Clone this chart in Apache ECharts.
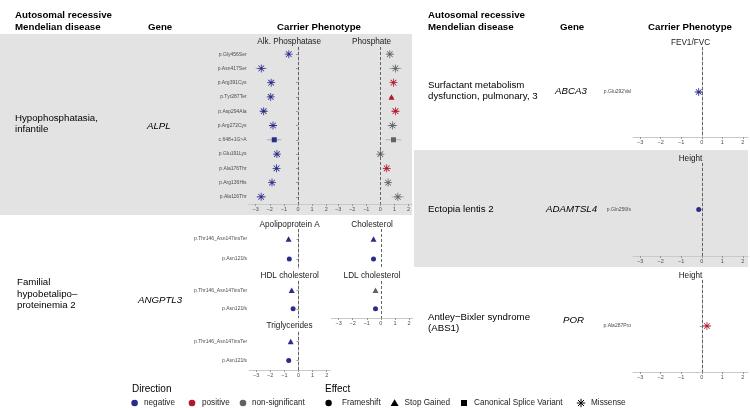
<!DOCTYPE html>
<html><head><meta charset="utf-8">
<script src="https://cdn.jsdelivr.net/npm/echarts@6/dist/echarts.min.js"></script>
<style>html,body{margin:0;padding:0;background:#fff}#c{width:750px;height:408px}</style>
</head><body><div id="c"></div>
<script>
// ---------------- DATA ----------------
const xTicks = [-3, -2, -1, 0, 1, 2];

const alplVariants = ['p.Gly456Ser','p.Asn417Ser','p.Arg391Cys','p.Tyr287Ter','p.Asp294Ala','p.Arg272Cys','c.648+1G>A','p.Glu191Lys','p.Ala176Thr','p.Arg136His','p.Ala116Thr'];
const alkValues    = [-0.65, -2.60, -1.90, -1.93, -2.43, -1.77, -1.68, -1.49, -1.52, -1.84, -2.61];
const alkErrors    = [0.15, 0.40, 0.20, 0.20, 0.20, 0.30, 0.50, 0.20, 0.20, 0.20, 0.35];
const alkDirection = ['negative','negative','negative','negative','negative','negative','negative','negative','negative','negative','negative'];
const alkEffect    = ['Missense','Missense','Missense','Missense','Missense','Missense','Canonical Splice Variant','Missense','Missense','Missense','Missense'];

const phosValues    = [0.67, 1.07, 0.93, 0.79, 1.07, 0.86, 0.93, 0.00, 0.45, 0.55, 1.24];
const phosErrors    = [0.25, 0.45, 0.20, 0.15, 0.25, 0.35, 0.55, 0.15, 0.25, 0.20, 0.45];
const phosDirection = ['non-significant','non-significant','positive','positive','positive','non-significant','non-significant','non-significant','positive','non-significant','non-significant'];
const phosEffect    = ['Missense','Missense','Missense','Stop Gained','Missense','Missense','Canonical Splice Variant','Missense','Missense','Missense','Missense'];

const angptl3Variants = ['p.Thr146_Asn147insTer','p.Asn121fs'];
const angptl3Effect   = ['Stop Gained','Frameshift'];
const apoAValues = [-0.70, -0.65]; const apoAErrors = [0.10, 0.10]; const apoADirection = ['negative','negative'];
const cholValues = [-0.52, -0.52]; const cholErrors = [0.10, 0.10]; const cholDirection = ['negative','negative'];
const hdlValues  = [-0.48, -0.38]; const hdlErrors  = [0.10, 0.10]; const hdlDirection  = ['negative','negative'];
const ldlValues  = [-0.38, -0.38]; const ldlErrors  = [0.10, 0.10]; const ldlDirection  = ['non-significant','negative'];
const trigValues = [-0.55, -0.69]; const trigErrors = [0.10, 0.10]; const trigDirection = ['negative','negative'];

const abca3Variants = ['p.Glu292Val']; const fevValues = [-0.15]; const fevErrors = [0.10]; const fevDirection = ['negative']; const fevEffect = ['Missense'];
const adamtsl4Variants = ['p.Gln256fs']; const adamHeightValues = [-0.15]; const adamHeightErrors = [0.08]; const adamHeightDirection = ['negative']; const adamEffect = ['Frameshift'];
const porVariants = ['p.Ala287Pro']; const porHeightValues = [0.25]; const porHeightErrors = [0.10]; const porHeightDirection = ['positive']; const porEffect = ['Missense'];

// ---------------- STYLE ----------------
const FONT = "'Liberation Sans', Arial, Helvetica, sans-serif";
const dirColor = {'negative':'#2B2B8C','positive':'#B2182B','non-significant':'#626262'};
const STAR = 'path://M9,0 L11,0 L11,20 L9,20 Z M0,9 L20,9 L20,11 L0,11 Z M3.64,2.22 L17.78,16.36 L16.36,17.78 L2.22,3.64 Z M17.78,3.64 L3.64,17.78 L2.22,16.36 L16.36,2.22 Z';
const effectSymbol = {'Frameshift':'circle','Stop Gained':'triangle','Canonical Splice Variant':'rect','Missense':STAR};
const effectSize = {'Frameshift':5,'Stop Gained':[6,5.5],'Canonical Splice Variant':5,'Missense':8};
const GREY = '#E3E3E3';
const AXIS = '#C9C9C9';

const grids = [], xAxes = [], yAxes = [], series = [], graphics = [];

function txt(x, y, text, opt) {
  opt = opt || {};
  graphics.push({type:'text', x:x, y:y, z:20, silent:true, style:{
    text:text, fill:opt.fill || '#000', fontSize:opt.size || 9.7, fontFamily:FONT,
    fontWeight:opt.weight || 'normal', fontStyle:opt.style || 'normal',
    align:opt.align || 'left', verticalAlign:'middle'}});
}

function facet(o) {
  const i = grids.length;
  grids.push({left:o.left, top:o.top, width:o.width, height:o.height});
  xAxes.push({type:'value', gridIndex:i, min:o.min, max:o.max,
    axisLine:{show:o.showX, lineStyle:{color:AXIS, width:1}},
    axisTick:{show:o.showX, length:2, customValues:xTicks, lineStyle:{color:'#999'}},
    axisLabel:{show:o.showX, customValues:xTicks, fontSize:5.5, color:'#4D4D4D', margin:2, fontFamily:FONT,
      formatter:v => (v < 0 ? '\u2212' + Math.abs(v) : String(v))},
    splitLine:{show:false}});
  yAxes.push({type:'category', gridIndex:i, data:o.cats, inverse:true,
    axisLine:{show:o.showY, lineStyle:{color:AXIS, width:1}},
    axisTick:{show:o.showY, length:2, alignWithLabel:true, lineStyle:{color:'#999'}},
    axisLabel:{show:o.showY, fontSize:5, color:'#4D4D4D', margin:2, fontFamily:FONT},
    splitLine:{show:false}});
  series.push({type:'custom', xAxisIndex:i, yAxisIndex:i, silent:true, z:2,
    encode:{x:[0,1], y:2},
    data:o.values.map((v,k) => ({value:[v - o.errors[k], v + o.errors[k], k], itemStyle:{color:dirColor[o.dirs[k]]}})),
    renderItem:(params, api) => {
      const a = api.coord([api.value(0), api.value(2)]);
      const b = api.coord([api.value(1), api.value(2)]);
      return {type:'line', shape:{x1:a[0], y1:a[1], x2:b[0], y2:b[1]},
        style:{stroke:api.visual('color'), lineWidth:1, opacity:0.35}};
    }});
  series.push({type:'scatter', xAxisIndex:i, yAxisIndex:i, z:3, silent:true,
    data:o.values.map((v,k) => ({value:[v, o.cats[k]], symbol:effectSymbol[o.effects[k]],
      symbolSize:effectSize[o.effects[k]], itemStyle:{color:dirColor[o.dirs[k]], opacity:1}})),
    markLine:{silent:true, symbol:['none','none'], label:{show:false},
      lineStyle:{color:'#555', type:[3,2], width:0.9}, data:[{xAxis:0}]}});
  txt(o.left + o.width / 2, o.titleY, o.title, {size:8.2, align:'center', fill:'#1A1A1A'});
}

// backgrounds
graphics.push({type:'rect', z:-10, silent:true, shape:{x:0, y:34, width:412, height:181}, style:{fill:GREY}});
graphics.push({type:'rect', z:-10, silent:true, shape:{x:414, y:150, width:334, height:117}, style:{fill:GREY}});

// ALPL
facet({left:248.6, top:47, width:81.1, height:157, min:-3.5, max:2.25, cats:alplVariants, values:alkValues, errors:alkErrors, dirs:alkDirection, effects:alkEffect, showY:true, showX:true, title:'Alk. Phosphatase', titleY:42});
facet({left:331, top:47, width:81.1, height:157, min:-3.5, max:2.25, cats:alplVariants, values:phosValues, errors:phosErrors, dirs:phosDirection, effects:phosEffect, showY:false, showX:true, title:'Phosphate', titleY:42});
// ANGPTL3
facet({left:249.1, top:229, width:81.1, height:40, min:-3.5, max:2.25, cats:angptl3Variants, values:apoAValues, errors:apoAErrors, dirs:apoADirection, effects:angptl3Effect, showY:true, showX:false, title:'Apolipoprotein A', titleY:225});
facet({left:331.5, top:229, width:81.1, height:40, min:-3.5, max:2.25, cats:angptl3Variants, values:cholValues, errors:cholErrors, dirs:cholDirection, effects:angptl3Effect, showY:false, showX:false, title:'Cholesterol', titleY:225});
facet({left:249.1, top:281, width:81.1, height:37, min:-3.5, max:2.25, cats:angptl3Variants, values:hdlValues, errors:hdlErrors, dirs:hdlDirection, effects:angptl3Effect, showY:true, showX:false, title:'HDL cholesterol', titleY:276});
facet({left:331.5, top:281, width:81.1, height:37, min:-3.5, max:2.25, cats:angptl3Variants, values:ldlValues, errors:ldlErrors, dirs:ldlDirection, effects:angptl3Effect, showY:false, showX:true, title:'LDL cholesterol', titleY:276});
facet({left:249.1, top:332, width:81.1, height:38, min:-3.5, max:2.25, cats:angptl3Variants, values:trigValues, errors:trigErrors, dirs:trigDirection, effects:angptl3Effect, showY:true, showX:true, title:'Triglycerides', titleY:326});
// Right side
facet({left:633, top:47, width:115, height:90, min:-3.35, max:2.25, cats:abca3Variants, values:fevValues, errors:fevErrors, dirs:fevDirection, effects:fevEffect, showY:true, showX:true, title:'FEV1/FVC', titleY:43});
facet({left:633, top:163, width:115, height:93, min:-3.35, max:2.25, cats:adamtsl4Variants, values:adamHeightValues, errors:adamHeightErrors, dirs:adamHeightDirection, effects:adamEffect, showY:true, showX:true, title:'Height', titleY:159});
facet({left:633, top:280, width:115, height:92, min:-3.35, max:2.25, cats:porVariants, values:porHeightValues, errors:porHeightErrors, dirs:porHeightDirection, effects:porEffect, showY:true, showX:true, title:'Height', titleY:276});

// headers
[[15, 148, 319], [428, 560, 690]].forEach(([a, g, c]) => {
  txt(a, 15, 'Autosomal recessive', {weight:'bold'});
  txt(a, 27.5, 'Mendelian disease', {weight:'bold'});
  txt(g, 27.5, 'Gene', {weight:'bold'});
  txt(c, 27.5, 'Carrier Phenotype', {weight:'bold', align:'center'});
});
// row labels
txt(15, 118, 'Hypophosphatasia,'); txt(15, 129.5, 'infantile');
txt(147, 126, 'ALPL', {style:'italic'});
txt(17, 282.5, 'Familial'); txt(17, 294, 'hypobetalipo\u2013'); txt(17, 305.5, 'proteinemia 2');
txt(138, 300, 'ANGPTL3', {style:'italic'});
txt(428, 85, 'Surfactant metabolism'); txt(428, 96.5, 'dysfunction, pulmonary, 3');
txt(555, 91, 'ABCA3', {style:'italic'});
txt(428, 209, 'Ectopia lentis 2');
txt(546, 209, 'ADAMTSL4', {style:'italic'});
txt(428, 317, 'Antley\u2212Bixler syndrome'); txt(428, 328.5, '(ABS1)');
txt(563, 320, 'POR', {style:'italic'});

// legend
txt(132, 389, 'Direction', {size:10});
txt(325, 389, 'Effect', {size:10});
const LY = 403;
[['negative',134.6,144],['positive',192,202],['non-significant',243,252]].forEach(([d, cx, tx]) => {
  graphics.push({type:'circle', z:20, silent:true, shape:{cx:cx, cy:LY, r:3.3}, style:{fill:dirColor[d]}});
  txt(tx, LY, d, {size:8.2, fill:'#222'});
});
graphics.push({type:'circle', z:20, silent:true, shape:{cx:328.6, cy:LY, r:3.2}, style:{fill:'#000'}});
txt(342, LY, 'Frameshift', {size:8.2, fill:'#222'});
graphics.push({type:'polygon', z:20, silent:true, shape:{points:[[394.6,LY-3.8],[398.6,LY+3],[390.6,LY+3]]}, style:{fill:'#000'}});
txt(404.6, LY, 'Stop Gained', {size:8.2, fill:'#222'});
graphics.push({type:'rect', z:20, silent:true, shape:{x:461, y:LY-3, width:6, height:6}, style:{fill:'#000'}});
txt(474, LY, 'Canonical Splice Variant', {size:8.2, fill:'#222'});
[[0,-4.2,0,4.2],[-4.2,0,4.2,0],[-3,-3,3,3],[-3,3,3,-3]].forEach(([x1,y1,x2,y2]) => {
  graphics.push({type:'line', z:20, silent:true, shape:{x1:581+x1, y1:LY+y1, x2:581+x2, y2:LY+y2}, style:{stroke:'#000', lineWidth:1}});
});
txt(591, LY, 'Missense', {size:8.2, fill:'#222'});

const chart = echarts.init(document.getElementById('c'), null, {renderer:'canvas'});
chart.setOption({animation:false, backgroundColor:'#fff', grid:grids, xAxis:xAxes, yAxis:yAxes, series:series, graphic:graphics});
</script></body></html>
